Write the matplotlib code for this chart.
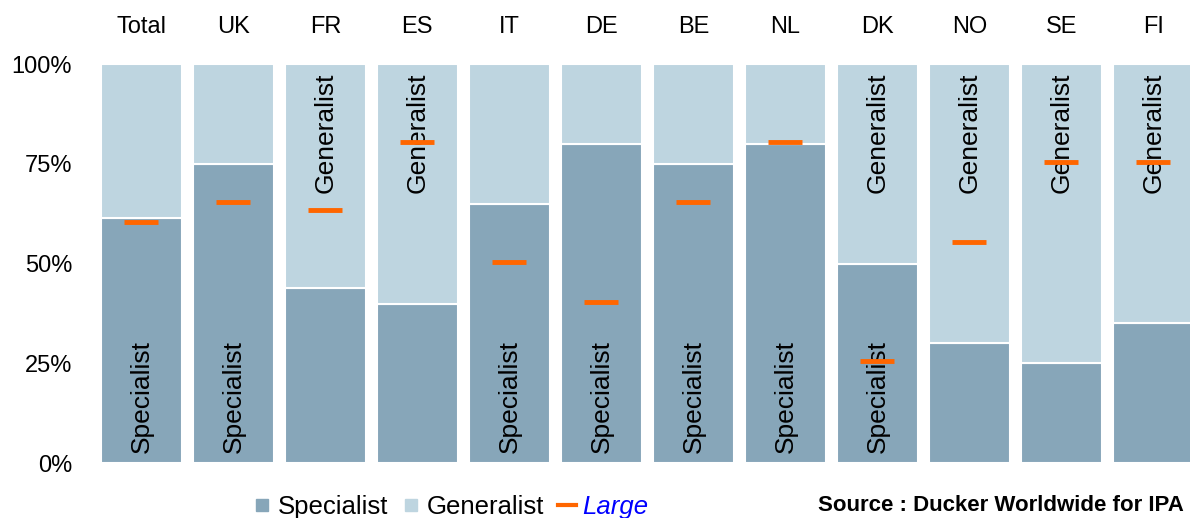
import numpy as np
import matplotlib.pyplot as plt
from matplotlib.lines import Line2D

plt.rcParams['font.family'] = ['Liberation Sans', 'DejaVu Sans']

# data (percent)
countries = ['Total', 'UK', 'FR', 'ES', 'IT', 'DE', 'BE', 'NL', 'DK', 'NO', 'SE', 'FI']
specialist = [61.5, 75, 44, 40, 65, 80, 75, 80, 50, 30, 25, 35]
generalist = [38.5, 25, 56, 60, 35, 20, 25, 20, 50, 70, 75, 65]
large = [60.5, 65.5, 63.5, 80.5, 50.5, 40.5, 65.5, 80.5, 25.5, 55.5, 75.5, 75.5]
show_spec = ['Total', 'UK', 'IT', 'DE', 'BE', 'NL', 'DK']
show_gen = ['FR', 'ES', 'DK', 'NO', 'SE', 'FI']

col_spec = '#87A6B9'
col_gen = '#BED5E0'
col_large = '#FF6600'

fig = plt.figure(figsize=(11.9, 5.18), dpi=100)
ax = fig.add_axes([0.084, 0.106, 0.920, 0.770])

x = np.arange(len(countries))
spec = np.array(specialist) / 100
gen = np.array(generalist) / 100
ax.bar(x, spec, width=0.88, color=col_spec, edgecolor='white', linewidth=1.5)
ax.bar(x, gen, width=0.88, bottom=spec, color=col_gen, edgecolor='white', linewidth=1.5)
ax.plot(x, np.array(large) / 100, ls='none', marker='_', ms=25, mew=3.5, color=col_large, zorder=4)

for i, c in enumerate(countries):
    if c in show_spec:
        ax.text(i, 0.026, 'Specialist', rotation=90, ha='center', va='bottom', fontsize=19, zorder=3)
    if c in show_gen:
        ax.text(i, 0.98, 'Generalist', rotation=90, ha='center', va='top', fontsize=19, zorder=3)

ax.set_xlim(-0.45, 11.45)
ax.set_ylim(0, 1)
ax.xaxis.tick_top()
ax.set_xticks(x)
ax.set_xticklabels(countries, fontsize=17)
ax.set_yticks([0, 0.25, 0.5, 0.75, 1.0])
ax.set_yticklabels(['0%', '25%', '50%', '75%', '100%'], fontsize=17)
ax.tick_params(axis='x', length=0, pad=19)
ax.tick_params(axis='y', length=0, pad=20)
for s in ax.spines.values():
    s.set_visible(False)

handles = [
    Line2D([], [], ls='none', marker='s', ms=9, color=col_spec),
    Line2D([], [], ls='none', marker='s', ms=9, color=col_gen),
    Line2D([], [], color=col_large, lw=3),
]
leg = fig.legend(handles, ['Specialist', 'Generalist', 'Large'], loc='center',
                 bbox_to_anchor=(0.379, 0.022), ncol=3, frameon=False, fontsize=18.5,
                 handlelength=0.7, handletextpad=0.25, columnspacing=0.55)
leg.get_texts()[2].set_color('#0000FF')
leg.get_texts()[2].set_style('italic')

fig.text(0.687, 0.004, 'Source : Ducker Worldwide for IPA', fontsize=16, fontweight='bold',
         ha='left', va='bottom')

fig.savefig('out.png', dpi=100)
